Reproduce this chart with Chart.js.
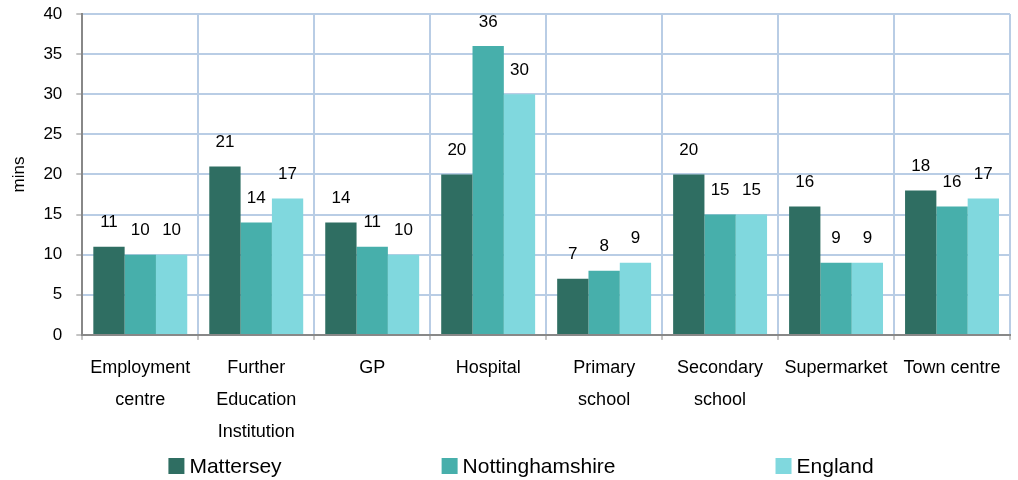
<!DOCTYPE html>
<html>
<head>
<meta charset="utf-8">
<script src="https://cdn.jsdelivr.net/npm/chart.js@4"></script>
<style>
  html, body { margin: 0; padding: 0; background: #fff; }
  #wrap { width: 1018px; height: 480px; position: relative; }
</style>
</head>
<body>
<div id="wrap"><canvas id="travelChart"></canvas></div>
<script>
const categories = [
  ["Employment", "centre"],
  ["Further", "Education", "Institution"],
  ["GP"],
  ["Hospital"],
  ["Primary", "school"],
  ["Secondary", "school"],
  ["Supermarket"],
  ["Town centre"]
];
const seriesNames = ["Mattersey", "Nottinghamshire", "England"];
const mattersey = [11, 21, 14, 20, 7, 20, 16, 18];
const nottinghamshire = [10, 14, 11, 36, 8, 15, 9, 16];
const england = [10, 17, 10, 30, 9, 15, 9, 17];
const yTicks = [0, 5, 10, 15, 20, 25, 30, 35, 40];

const colours = ["#2F6E62", "#47AFAB", "#80D8DE"];
const FONT = "'Liberation Sans', Arial, sans-serif";

// value labels above each bar
const barLabels = {
  id: "barLabels",
  afterDatasetsDraw(chart) {
    const ctx = chart.ctx;
    ctx.save();
    ctx.font = "17px " + FONT;
    ctx.fillStyle = "#000";
    ctx.textAlign = "center";
    ctx.textBaseline = "middle";
    chart.data.datasets.forEach((ds, i) => {
      chart.getDatasetMeta(i).data.forEach((bar, j) => {
        ctx.fillText(ds.data[j], bar.x, bar.y - 24);
      });
    });
    ctx.restore();
  }
};

// wide-spaced legend along the bottom
const spreadLegend = {
  id: "spreadLegend",
  afterDraw(chart) {
    const ctx = chart.ctx;
    ctx.save();
    ctx.font = "21px " + FONT;
    ctx.textBaseline = "middle";
    const box = 16, gap = 5, spacing = 160;
    const widths = chart.data.datasets.map(ds => box + gap + ctx.measureText(ds.label).width);
    const total = widths.reduce((a, b) => a + b, 0) + spacing * (widths.length - 1);
    let x = chart.width / 2 + 12 - total / 2;
    const y = 466;
    chart.data.datasets.forEach((ds, i) => {
      ctx.fillStyle = ds.backgroundColor;
      ctx.fillRect(x, y - box / 2, box, box);
      ctx.fillStyle = "#000";
      ctx.fillText(ds.label, x + box + gap, y + 1);
      x += widths[i] + spacing;
    });
    ctx.restore();
  }
};

new Chart(document.getElementById("travelChart"), {
  type: "bar",
  data: {
    labels: categories,
    datasets: [
      { label: seriesNames[0], data: mattersey, backgroundColor: colours[0] },
      { label: seriesNames[1], data: nottinghamshire, backgroundColor: colours[1] },
      { label: seriesNames[2], data: england, backgroundColor: colours[2] }
    ]
  },
  options: {
    responsive: true,
    maintainAspectRatio: false,
    animation: false,
    datasets: {
      bar: { categoryPercentage: 0.81, barPercentage: 1.0 }
    },
    layout: { padding: { top: 14, right: 8, bottom: 20, left: 9 } },
    plugins: {
      legend: { display: false },
      tooltip: { enabled: false }
    },
    scales: {
      x: {
        grid: {
          offset: true,
          color: "#B9CDE5",
          lineWidth: 2,
          tickColor: "#888",
          tickLength: 5,
          tickWidth: 1
        },
        border: { color: "#888", width: 2 },
        ticks: {
          color: "#000",
          font: { family: FONT, size: 18, lineHeight: 1.78 },
          padding: 12,
          maxRotation: 0,
          autoSkip: false
        }
      },
      y: {
        min: 0,
        max: 40,
        afterBuildTicks(axis) {
          axis.ticks = yTicks.map(v => ({ value: v }));
        },
        afterFit(axis) {
          axis.paddingTop = 0;
          axis.paddingBottom = 0;
        },
        grid: {
          color: "#B9CDE5",
          lineWidth: 2,
          tickColor: "#888",
          tickLength: 6,
          tickWidth: 1
        },
        border: { color: "#888", width: 2 },
        ticks: {
          color: "#000",
          font: { family: FONT, size: 17 },
          padding: 14
        },
        title: {
          display: true,
          text: "mins",
          color: "#000",
          font: { family: FONT, size: 17 },
          padding: { top: 0, bottom: 0 }
        }
      }
    }
  },
  plugins: [barLabels, spreadLegend]
});
</script>
</body>
</html>
